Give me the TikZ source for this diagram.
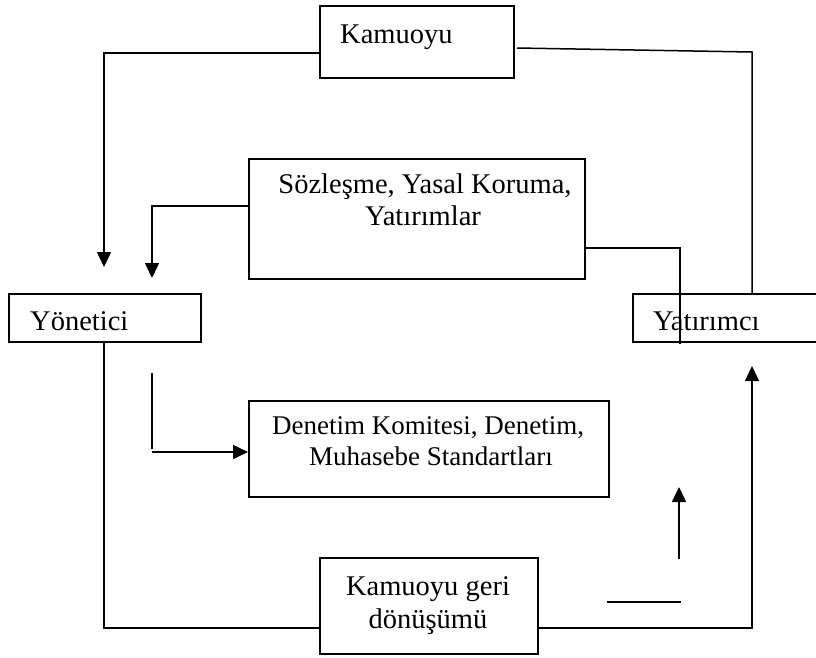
\documentclass[tikz,border=0pt]{standalone}
\usepackage{fontspec}
\setmainfont{Liberation Serif}
\usetikzlibrary{arrows.meta}
\begin{document}
\begin{tikzpicture}[x=1pt,y=-1pt,
  box/.style={draw, line width=1.5pt, anchor=north west, inner sep=0pt},
  big/.style={inner sep=0pt, font=\fontsize{28.5}{33}\selectfont},
  small/.style={inner sep=0pt, font=\fontsize{27}{31}\selectfont},
  conn/.style={line width=1.5pt},
  arr/.style={line width=1.5pt, -{Triangle[length=15pt,width=14pt]}}]
\clip (0,0) rectangle (816,657);
\fill[white] (0,0) rectangle (816,657);
% boxes
\node[box, minimum width=194pt, minimum height=72pt] (k) at (319,5) {};
\node[box, minimum width=336pt, minimum height=120pt] (s) at (248,158) {};
\node[box, minimum width=192pt, minimum height=48pt] (y) at (8,293) {};
\node[box, minimum width=220pt, minimum height=48pt] (t) at (632,293) {};
\node[box, minimum width=360pt, minimum height=96pt] (d) at (248,400) {};
\node[box, minimum width=218pt, minimum height=96pt] (g) at (319,557) {};
% texts
\node[big, anchor=base west] (kt) at (340,43) {Kamuoyu};
\node[big, anchor=base west] (yt) at (30,330) {Yönetici};
\node[big, anchor=base west] (tt) at (653,330) {Yatırımcı};
\node[big, anchor=base] (s1) at (425,193) {Sözleşme, Yasal Koruma,};
\node[big, anchor=base] (s2) at (423,225) {Yatırımlar};
\node[small, anchor=base] (d1) at (428,434) {Denetim Komitesi, Denetim,};
\node[small, anchor=base] (d2) at (431,465) {Muhasebe Standartları};
\node[big, anchor=base] (g1) at (428,595) {Kamuoyu geri};
\node[big, anchor=base] (g2) at (428,628) {dönüşümü};
% free ends
\coordinate (a1) at (104,267);
\coordinate (a2) at (152,278);
\coordinate (r2) at (680,344);
\coordinate (a3) at (752,366);
\coordinate (h1) at (607,602);
\coordinate (h2) at (681,602);
\coordinate (u1) at (679,559);
\coordinate (u2) at (679,487);
\coordinate (v1) at (152,373);
\coordinate (v2) at (152,449);
\coordinate (w1) at (152,452);
% connectors
\draw[arr] (k.west |- 0,53) -| (a1);
\draw[conn] (517,48) -- (752,52) -- (t.north -| 752,0);
\draw[arr] (s.west |- 0,206) -| (a2);
\draw[conn] (s.east |- 0,248) -| (r2);
\draw[conn] (y.south -| 104,0) |- (g.west |- 0,628);
\draw[arr] (g.east |- 0,628) -| (a3);
\draw[conn] (h1) -- (h2);
\draw[arr] (u1) -- (u2);
\draw[conn] (v1) -- (v2);
\draw[arr] (w1) -- (d.west |- w1);
\end{tikzpicture}
\end{document}
